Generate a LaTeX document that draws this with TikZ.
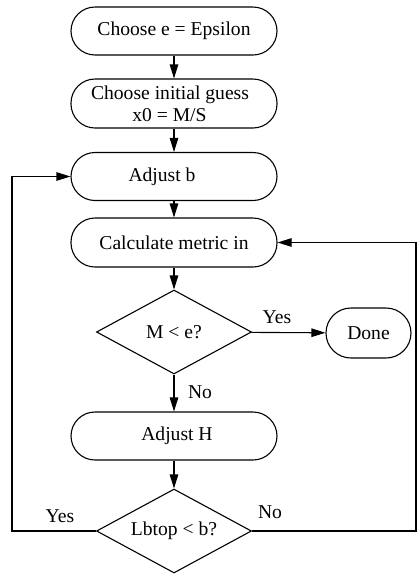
\documentclass[tikz,border=0pt]{standalone}
\usepackage{fontspec}
\setmainfont{Liberation Serif}
\usetikzlibrary{shapes.geometric,arrows.meta}
\begin{document}
\begin{tikzpicture}[x=1pt,y=-1pt,
  every node/.style={font=\fontsize{19.6}{22}\selectfont},
  proc/.style={draw,line width=1.1pt,rectangle,rounded corners=24pt,minimum width=206pt,minimum height=48pt,inner sep=0pt,align=center},
  decide/.style={draw,line width=1.1pt,diamond,aspect=1.85,minimum width=155pt,minimum height=84pt,inner sep=0pt},
  arr/.style={line width=1.1pt,-{Triangle[length=14pt,width=8.5pt]}},
  lbl/.style={inner sep=0pt}]
\useasboundingbox (0,0) rectangle (417,574);
\node[proc] (b1) at (174,31) {Choose e = Epsilon};
\node[proc,minimum height=49pt] (b2) at (174,103.5) {Choose initial guess\hspace*{8pt}\\x0 = M/S\hspace*{9pt}};
\node[proc] (b3) at (174,176.5) {Adjust b\hspace*{24pt}};
\node[proc,minimum height=49pt] (b4) at (174,242.5) {Calculate metric in};
\node[decide] (d1) at (174,332) {M < e?};
\node[proc,minimum width=85pt,minimum height=50pt,rounded corners=25pt] (done) at (368.5,333) {Done};
\node[proc] (b5) at (174,436) {\hspace*{6pt}Adjust H};
\node[decide] (d2) at (174,531) {Lbtop < b?};
\coordinate (l1) at (12,531);
\coordinate (l2) at (12,176.5);
\coordinate (r1) at (416,531);
\coordinate (r2) at (416,242.5);
\draw[arr] (b1) -- (b2);
\draw[arr] (b2) -- (b3);
\draw[arr] (b3) -- (b4);
\draw[arr] (b4) -- (d1);
\draw[arr] (d1) -- (done);
\draw[arr] (d1) -- (b5);
\draw[arr] (b5) -- (d2);
\draw[arr] (d2.west) -- (l1) -- (l2) -- (b3.west);
\draw[arr] (d2.east) -- (r1) -- (r2) -- (b4.east);
\node[lbl] (y1) at (277,317) {Yes};
\node[lbl] (n1) at (200,392) {No};
\node[lbl] (y2) at (60,516) {Yes};
\node[lbl] (n2) at (270,512) {No};
\end{tikzpicture}
\end{document}
